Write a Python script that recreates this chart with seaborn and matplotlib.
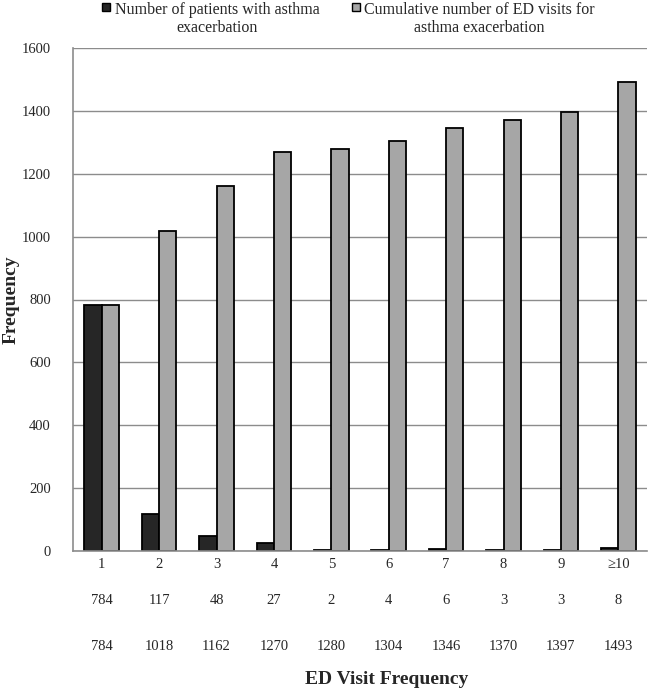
import pandas as pd
import matplotlib
matplotlib.use("Agg")
import matplotlib.pyplot as plt
from matplotlib.legend_handler import HandlerPatch
from matplotlib.patches import Rectangle
import seaborn as sns

# values
visit_labels = ['1', '2', '3', '4', '5', '6', '7', '8', '9', '≥10']
patients = [784, 117, 48, 27, 2, 4, 6, 3, 3, 8]
cumulative_visits = [784, 1018, 1162, 1270, 1280, 1304, 1346, 1370, 1397, 1493]
series_names = ['Number of patients with asthma\nexacerbation',
                'Cumulative number of ED visits for\nasthma exacerbation']
y_ticks = [0, 200, 400, 600, 800, 1000, 1200, 1400, 1600]

df = pd.DataFrame({
    'visits': visit_labels * 2,
    'count': patients + cumulative_visits,
    'series': [series_names[0]] * len(visit_labels) + [series_names[1]] * len(visit_labels),
})

sns.set_style('white')
plt.rcParams['font.family'] = ['Liberation Serif', 'DejaVu Serif']

fig = plt.figure(figsize=(6.5, 6.91), dpi=100)
ax = fig.add_axes([73 / 650, 1 - 551 / 691, 574 / 650, 503 / 691])

sns.barplot(data=df, x='visits', y='count', hue='series', order=visit_labels,
            hue_order=series_names, palette=['#262626', '#a6a6a6'],
            width=0.6, gap=0, edgecolor='black', linewidth=1.3,
            legend=True, ax=ax)

ax.set_ylim(0, 1600)
ax.set_yticks(y_ticks)
ax.yaxis.grid(True, color='#8c8c8c', linewidth=1)
ax.set_axisbelow(True)
for side in ['top', 'right']:
    ax.spines[side].set_visible(False)
for side in ['left', 'bottom']:
    ax.spines[side].set_color('#8c8c8c')
    ax.spines[side].set_linewidth(1.2)
ax.tick_params(axis='y', length=0, pad=16, labelsize=10.5)
ax.tick_params(axis='x', length=0, pad=5, labelsize=10.5)

# data table rows under the category labels
for i, lab in enumerate(visit_labels):
    ax.annotate(str(patients[i]), xy=(i, 0), xycoords=('data', 'axes fraction'),
                xytext=(0, -49 * 0.72), textcoords='offset points',
                ha='center', va='center', fontsize=10.5)
    ax.annotate(str(cumulative_visits[i]), xy=(i, 0), xycoords=('data', 'axes fraction'),
                xytext=(0, -96 * 0.72), textcoords='offset points',
                ha='center', va='center', fontsize=10.5)

ax.set_xlabel('ED Visit Frequency', fontsize=14, fontweight='bold', va='center')
ax.xaxis.set_label_coords((387 - 73) / 574, -(680 - 551) / 503)
ax.set_ylabel('Frequency', fontsize=14, fontweight='bold', va='center')
ax.yaxis.set_label_coords((11 - 73) / 574, 0.5)


def top_square(legend, orig_handle, xdescent, ydescent, width, height, fontsize):
    # small square next to the first line of a two-line label
    size = 0.5 * fontsize
    return Rectangle((-xdescent, 0.85 * fontsize), size, size)


# legend on top, two columns
old_leg = ax.get_legend()
handles = old_leg.legend_handles
labels = [t.get_text() for t in old_leg.get_texts()]
old_leg.remove()
leg = fig.legend(handles, labels, loc='center', ncol=2,
                 bbox_to_anchor=(348.5 / 650, 1 - 19 / 691),
                 frameon=False, fontsize=11.5, borderpad=0,
                 handlelength=0.5, handleheight=0.5, handletextpad=0.3,
                 columnspacing=2.0,
                 handler_map={Rectangle: HandlerPatch(patch_func=top_square)})
for t in leg.get_texts():
    t.set_multialignment('center')
for h in leg.legend_handles:
    h.set_edgecolor('black')
    h.set_linewidth(1)

fig.savefig('out.png', dpi=100)
